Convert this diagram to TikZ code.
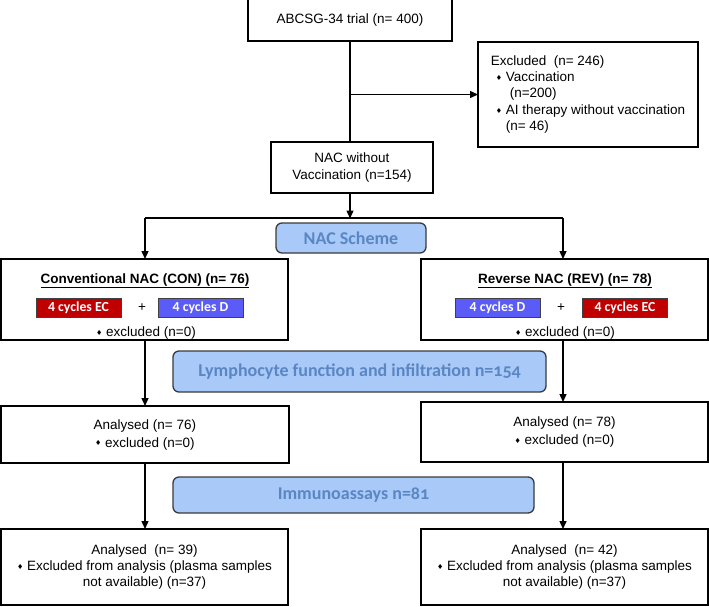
\documentclass[tikz,border=0pt]{standalone}
\usepackage{fontspec}
\setmainfont{Liberation Sans}
\newfontfamily\calib{Carlito}
\newfontfamily\calibos[Numbers=OldStyle]{Carlito}
\newfontfamily\djv{DejaVu Sans}
\usetikzlibrary{arrows.meta}
\definecolor{schfill}{HTML}{A9C9F8}
\definecolor{schtext}{HTML}{5A86C4}
\definecolor{schdraw}{HTML}{3A3A3A}
\definecolor{ecred}{HTML}{C00000}
\definecolor{dblue}{HTML}{5B5BF7}
\newcommand\dia{{\djv\fontsize{7}{7}\selectfont\raisebox{0.15em}{♦}}}
\begin{document}
\begin{tikzpicture}[x=1pt,y=-1pt,
  every node/.style={font=\fontsize{13.5}{16.5}\selectfont, inner sep=0pt, outer sep=0pt},
  box/.style={draw, line width=1.4pt, fill=white, align=center},
  scheme/.style={draw=schdraw, line width=1.3pt, fill=schfill, rounded corners=6pt, text=schtext, font=\calibos\bfseries\fontsize{18}{20}\selectfont},
  chemo/.style={draw=black!75, line width=0.7pt, text=white, font=\calib\bfseries\fontsize{13.8}{15}\selectfont, minimum width=85pt, minimum height=19pt},
  ttl/.style={anchor=base, font=\bfseries\fontsize{13.5}{16}\selectfont},
  arr/.style={line width=1.4pt, -{Triangle[length=8pt,width=7pt]}},
  ln/.style={line width=1.4pt}]
\useasboundingbox (0,0) rectangle (709,606);

% top part
\node[box, minimum width=204pt, minimum height=42pt] (top) at (350,20) {ABCSG-34 trial (n= 400)};
\node[box, minimum width=220pt, minimum height=105pt, align=left, font=\fontsize{13.5}{16.3}\selectfont] (excl) at (588,94.5)
  {Excluded\ \ (n= 246)\\
   \hspace{5pt}\dia\ Vaccination\\
   \hspace{19pt}(n=200)\\
   \hspace{5pt}\dia\ AI therapy without vaccination\\
   \hspace{15pt}(n= 46)};
\node[box, minimum width=162pt, minimum height=51pt] (nac) at (352,167.5) {NAC without\\Vaccination (n=154)};

\draw[ln] (top.south) -- (top.south |- nac.north);
\draw[arr] (top.south |- excl.west) -- (excl.west);

\coordinate (split) at (350,218.5);
\coordinate (jl) at (145,218);
\coordinate (jr) at (563,218);

% scheme
\node[scheme, minimum width=150pt, minimum height=30pt] (s1) at (351,238) {NAC Scheme};

% arms
\node[box, minimum width=287pt, minimum height=81pt] (con) at (144.5,299.5) {};
\node[box, minimum width=287pt, minimum height=81pt] (rev) at (564.5,299.5) {};

\draw[arr] (top.south |- nac.south) -- (split);
\draw[ln] (jl) -- (jr);
\draw[arr] (jl) -- (jl |- con.north);
\draw[arr] (jr) -- (jr |- rev.north);

\node[ttl] (cont) at (145,283) {\underline{Conventional NAC (CON) (n= 76)}};
\node[chemo, fill=ecred] (cec) at (78.5,307.5) {4 cycles EC};
\node (cplus) at (142,307.5) {+};
\node[chemo, fill=dblue] (cd) at (200.5,307.5) {4 cycles D};
\node (cex) at (146,333) {\dia\ excluded (n=0)};

\node[ttl] (revt) at (565,283) {\underline{Reverse NAC (REV) (n= 78)}};
\node[chemo, fill=dblue] (rd) at (497.5,307.5) {4 cycles D};
\node (rplus) at (561,307.5) {+};
\node[chemo, fill=ecred] (rec) at (625,307.5) {4 cycles EC};
\node (rex) at (565,333) {\dia\ excluded (n=0)};

% lymphocyte
\node[scheme, minimum width=373pt, minimum height=41pt] (s2) at (359.5,371.5) {Lymphocyte function and infiltration n=154};

\node[box, minimum width=288pt, minimum height=57pt] (anl) at (144.9,434.5) {Analysed (n= 76)\\[1.5pt]\dia\ excluded (n=0)};
\node[box, minimum width=287pt, minimum height=60pt] (anr) at (564.5,432) {Analysed (n= 78)\\[1.5pt]\dia\ excluded (n=0)};

\draw[arr] (jl |- con.south) -- (jl |- anl.north);
\draw[arr] (jr |- rev.south) -- (jr |- anr.north);

% immunoassays
\node[scheme, minimum width=361pt, minimum height=36pt] (s3) at (353.5,495) {Immunoassays n=81};

\node[box, minimum width=287pt, minimum height=76pt, font=\fontsize{13.5}{16.3}\selectfont] (bl) at (144.5,567)
  {Analysed\ \ (n= 39)\\\dia\ Excluded from analysis (plasma samples\\not available) (n=37)};
\node[box, minimum width=287pt, minimum height=76pt, font=\fontsize{13.5}{16.3}\selectfont] (br) at (564.5,567)
  {Analysed\ \ (n= 42)\\\dia\ Excluded from analysis (plasma samples\\not available) (n=37)};

\draw[arr] (jl |- anl.south) -- (jl |- bl.north);
\draw[arr] (jr |- anr.south) -- (jr |- br.north);
\end{tikzpicture}
\end{document}
